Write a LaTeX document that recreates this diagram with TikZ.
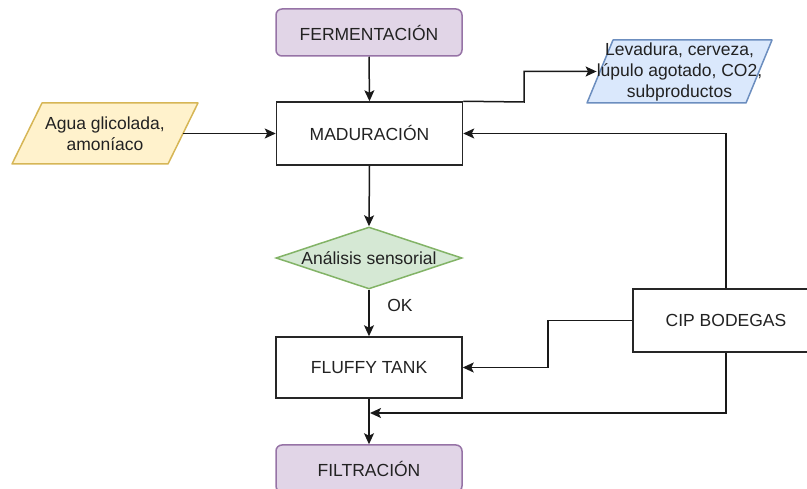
\documentclass[tikz,border=0pt]{standalone}
\usepackage{fontspec}
\setmainfont{Liberation Sans}
\usetikzlibrary{arrows.meta,shapes.geometric,calc}
\definecolor{purF}{HTML}{E1D5E7}\definecolor{purS}{HTML}{9673A6}
\definecolor{yelF}{HTML}{FFF2CC}\definecolor{yelS}{HTML}{D6B656}
\definecolor{bluF}{HTML}{DAE8FC}\definecolor{bluS}{HTML}{6C8EBF}
\definecolor{grnF}{HTML}{D5E8D4}\definecolor{grnS}{HTML}{82B366}
\definecolor{txt}{HTML}{222222}
\tikzset{
  base/.style={font=\fontsize{17.5}{21}\selectfont, text=txt, align=center, inner sep=0pt},
  procbox/.style={base, draw=black!85, line width=1.5pt, fill=white, minimum width=186pt},
  termbox/.style={base, draw=purS, fill=purF, line width=1.5pt, rounded corners=6pt, minimum width=186pt, minimum height=47pt},
  decbox/.style={base, diamond, draw=grnS, fill=grnF, line width=1.5pt, minimum width=186pt, minimum height=62pt, aspect=3},
  paratext/.style={base},
  conn/.style={line width=1.5pt, black!90, -{Stealth[length=11pt,width=10pt,inset=2.5pt]}},
}
\begin{document}
\begin{tikzpicture}[x=1pt,y=-1pt]
\useasboundingbox (0,0) rectangle (807,489);
% parallelogram backgrounds
\fill[yelF] (12,164) -- (168,164) -- (198,103) -- (42,103) -- cycle;
\draw[yelS, line width=1.5pt, line join=round] (12,164) -- (168,164) -- (198,103) -- (42,103) -- cycle;
\fill[bluF] (587,103) -- (746,103) -- (772,40) -- (613,40) -- cycle;
\draw[bluS, line width=1.5pt, line join=round] (587,103) -- (746,103) -- (772,40) -- (613,40) -- cycle;
% nodes
\node[termbox] (ferm) at (369,32.5) {FERMENTACIÓN};
\node[procbox, minimum height=63pt] (mad) at (369.5,133.5) {MADURACIÓN};
\node[paratext, minimum width=156pt, minimum height=61pt] (agua) at (105,133.5) {Agua glicolada,\\amoníaco};
\node[paratext, minimum width=159pt, minimum height=63pt] (lev) at (679.5,71.5) {Levadura, cerveza,\\lúpulo agotado, CO2,\\subproductos};
\node[decbox] (dec) at (369,258) {\makebox[0pt]{Análisis sensorial}};
\node[procbox, minimum height=61pt] (fluffy) at (369,367.5) {FLUFFY TANK};
\node[procbox, minimum height=63pt] (cip) at (726,320.5) {CIP BODEGAS};
\node[termbox] (filt) at (369,468.5) {FILTRACIÓN};
\node[base] (ok) at (400,305) {OK};
\coordinate (join) at (370,413);
% connectors
\draw[conn] (ferm.south) -- (mad.north);
\draw[conn] (agua.east) -- (mad.west);
\draw[conn] (mad.north east) -- (524,102) |- (lev.west);
\draw[conn] (mad.south) -- (dec.north);
\draw[conn] (dec.south) -- (fluffy.north);
\draw[conn] (cip.west) -- (548,320.5) |- (fluffy.east);
\draw[conn] (cip.north) |- (mad.east);
\draw[conn] (cip.south) |- (join);
\draw[conn] (fluffy.south) -- (filt.north);
\end{tikzpicture}
\end{document}
